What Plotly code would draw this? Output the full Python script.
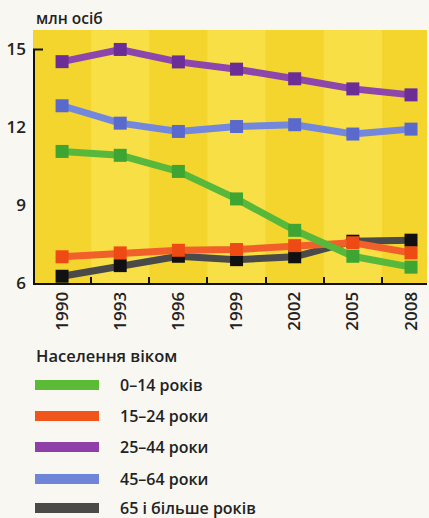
import plotly.graph_objects as go

years = ["1990", "1993", "1996", "1999", "2002", "2005", "2008"]
age_0_14 = [11.07, 10.92, 10.30, 9.24, 8.03, 7.03, 6.61]
age_15_24 = [7.01, 7.16, 7.26, 7.29, 7.44, 7.55, 7.16]
age_25_44 = [14.53, 15.0, 14.52, 14.24, 13.87, 13.48, 13.25]
age_45_64 = [12.83, 12.16, 11.84, 12.03, 12.10, 11.74, 11.93]
age_65 = [6.26, 6.67, 7.03, 6.90, 7.01, 7.61, 7.65]

names = ["0–14 років", "15–24 роки", "25–44 роки", "45–64 роки", "65 і більше років"]
series = [age_0_14, age_15_24, age_25_44, age_45_64, age_65]
line_colors = ["#58b83c", "#f1602a", "#8c46ac", "#7388dc", "#4a4a4a"]
marker_colors = ["#3ea532", "#ee4a14", "#6a2e96", "#5a6acc", "#111111"]
legend_colors = ["#5cbb36", "#f0561c", "#8e3fa8", "#6f86d8", "#4a4a48"]
y_ticks = [6, 9, 12, 15]
y_title = "млн осіб"
legend_title = "Населення віком"

FONT = "Open Sans"
W, H = 429, 518
L, R, T, B = 33, 2, 30, 235
ph = H - T - B
pw = W - L - R

def py(p):
    return (H - B - p) / ph

def px(p):
    return (p - L) / pw

fig = go.Figure()
order = [4, 1, 0, 3, 2]
for i in order:
    fig.add_trace(go.Scatter(
        x=years, y=series[i], name=names[i], mode="lines+markers",
        line=dict(color=line_colors[i], width=7),
        marker=dict(symbol="square", size=13, color=marker_colors[i]),
        showlegend=False, cliponaxis=False,
    ))

shapes = []
for k in range(len(years)):
    if k % 2 == 1:
        shapes.append(dict(type="rect", xref="x", yref="paper", x0=k - 0.5, x1=k + 0.5,
                           y0=0, y1=1, fillcolor="#f7df45", line=dict(width=0), layer="below"))
axis_top = py(49.5)
shapes.append(dict(type="line", xref="paper", yref="paper", x0=px(34), x1=px(34), y0=0, y1=axis_top,
                   line=dict(color="#111111", width=2)))
shapes.append(dict(type="line", xref="paper", yref="paper", x0=px(33), x1=px(43), y0=axis_top, y1=axis_top,
                   line=dict(color="#111111", width=2)))

annotations = [
    dict(text=y_title, xref="paper", yref="paper", x=px(34), y=py(18), xanchor="left",
         yanchor="middle", showarrow=False, font=dict(family=FONT, size=15.5, color="#222222", weight=600)),
    dict(text=legend_title, xref="paper", yref="paper", x=px(34), y=py(355), xanchor="left",
         yanchor="middle", showarrow=False, font=dict(family=FONT, size=16.5, color="#222222", weight=600)),
]
item_y = [385, 416, 447, 479, 508]
for i in range(len(names)):
    yy = py(item_y[i])
    shapes.append(dict(type="line", xref="paper", yref="paper", x0=px(35), x1=px(99), y0=yy, y1=yy,
                       line=dict(color=legend_colors[i], width=10)))
    annotations.append(dict(text=names[i], xref="paper", yref="paper", x=px(118), y=yy,
                            xanchor="left", yanchor="middle", showarrow=False,
                            font=dict(family=FONT, size=16, color="#222222", weight=600)))

fig.update_layout(
    width=W, height=H,
    margin=dict(l=L, r=R, t=T, b=B),
    paper_bgcolor="#f8f7f2",
    plot_bgcolor="#f3d52e",
    font=dict(family=FONT, color="#222222"),
    shapes=shapes,
    annotations=annotations,
    showlegend=False,
)
fig.update_xaxes(
    type="category", range=[-0.5, 6.275], showgrid=False, zeroline=False, automargin=False,
    showline=True, linecolor="#111111", linewidth=2,
    ticks="inside", ticklen=6, tickcolor="#111111", tickwidth=2, tickson="boundaries",
    tickangle=-90, tickfont=dict(family=FONT, size=17, color="#222222", weight=600),
)
fig.update_yaxes(
    range=[6, 15.75], tickvals=y_ticks, showgrid=False, zeroline=False, showline=False,
    automargin=False, ticks="", ticklabelstandoff=6,
    tickfont=dict(family=FONT, size=17, color="#222222", weight=600),
)

fig.write_html("out.html", config={"displayModeBar": False},
               post_script="document.body.style.margin='0px';")
